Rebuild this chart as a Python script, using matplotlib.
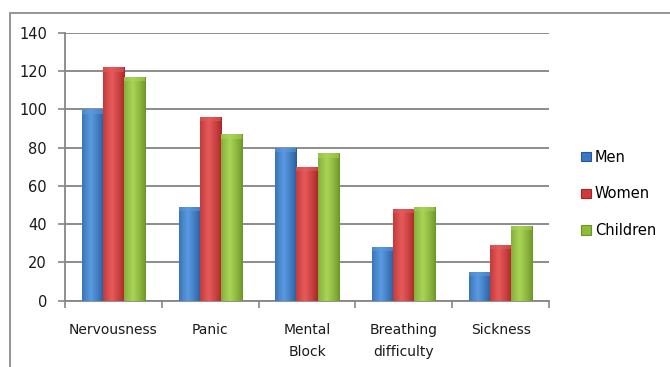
import numpy as np
import matplotlib
matplotlib.use("Agg")
import matplotlib.pyplot as plt
from matplotlib.patches import Rectangle, Patch
from matplotlib.colors import LinearSegmentedColormap

categories = ["Nervousness", "Panic", "Mental\nBlock", "Breathing\ndifficulty", "Sickness"]
series_names = ["Men", "Women", "Children"]
men = [100, 49, 80, 28, 15]
women = [122, 96, 70, 48, 29]
children = [117, 87, 77, 49, 39]
values = [men, women, children]

# (edge, highlight) colour pairs for the shaded bars
shades = [("#245a9c", "#5a9ae0"), ("#a82424", "#e65a5a"), ("#6a9424", "#aad456")]
flat = ["#3a78c4", "#d03c3c", "#8cbc3c"]

fig = plt.figure(figsize=(6.7, 3.67), dpi=100)
W, H = 670, 367
ax = fig.add_axes([65 / W, 1 - 300.7 / H, (549 - 65) / W, (300.7 - 33) / H])

# outer chart frame
fig.add_artist(Rectangle((10 / W, -0.1), 1.2, 1 - 13 / H + 0.1, transform=fig.transFigure,
                         fill=False, edgecolor="#8c8c8c", linewidth=1.3))

n = len(categories)
x = np.arange(n)
bw = 0.217
grad = np.linspace(0, 1, 64)
prof = np.clip(1 - np.abs(grad - 0.4) / 0.6, 0, 1) ** 0.8

for i, (vals, (c0, c1)) in enumerate(zip(values, shades)):
    offs = (i - 1) * bw
    bars = ax.bar(x + offs, vals, bw, color=flat[i], linewidth=0, zorder=3)
    cmap = LinearSegmentedColormap.from_list(f"s{i}", [c0, c1])
    for b in bars:
        x0, w, h = b.get_x(), b.get_width(), b.get_height()
        im = ax.imshow(prof[None, :], cmap=cmap, vmin=0, vmax=1, aspect="auto",
                       extent=(x0, x0 + w, 0, h), zorder=4, interpolation="bilinear")
        im.set_clip_path(b)
        cap = Rectangle((x0, h - 2.2), w, 2.2, facecolor=c1, edgecolor="none",
                        alpha=0.55, zorder=5)
        ax.add_patch(cap)

ax.set_xlim(-0.5, n - 0.5)
ax.set_ylim(0, 140)
ax.set_yticks(np.arange(0, 141, 20))
ax.set_xticks(np.arange(-0.5, n, 1), minor=False)
ax.set_xticklabels([])
ax.set_xticks(x, minor=True)
ax.set_xticklabels(categories, minor=True)
ax.tick_params(axis="x", which="minor", length=0, pad=16, labelsize=10, colors="#1a1a1a")
ax.tick_params(axis="x", which="major", length=5, color="#868686", width=1.2)
ax.tick_params(axis="y", length=5, color="#868686", width=1.2, pad=8, labelsize=10.5,
               labelcolor="#1a1a1a")
for lbl in ax.get_xticklabels(minor=True):
    lbl.set_verticalalignment("top")
    lbl.set_linespacing(1.75)

ax.grid(axis="y", color="#8c8c8c", linewidth=1.4, zorder=0)
ax.set_axisbelow(True)
for s in ["top", "right"]:
    ax.spines[s].set_visible(False)
for s in ["left", "bottom"]:
    ax.spines[s].set_color("#868686")
    ax.spines[s].set_linewidth(1.3)

handles = [Patch(facecolor=flat[i], edgecolor=shades[i][0], linewidth=0.8) for i in range(3)]
fig.legend(handles, series_names, loc="center left", bbox_to_anchor=(568 / W, 1 - 194 / H),
           frameon=False, fontsize=10.5, handlelength=0.65, handleheight=0.65,
           handletextpad=0.3, labelspacing=1.5)

fig.savefig("out.png", dpi=100)
